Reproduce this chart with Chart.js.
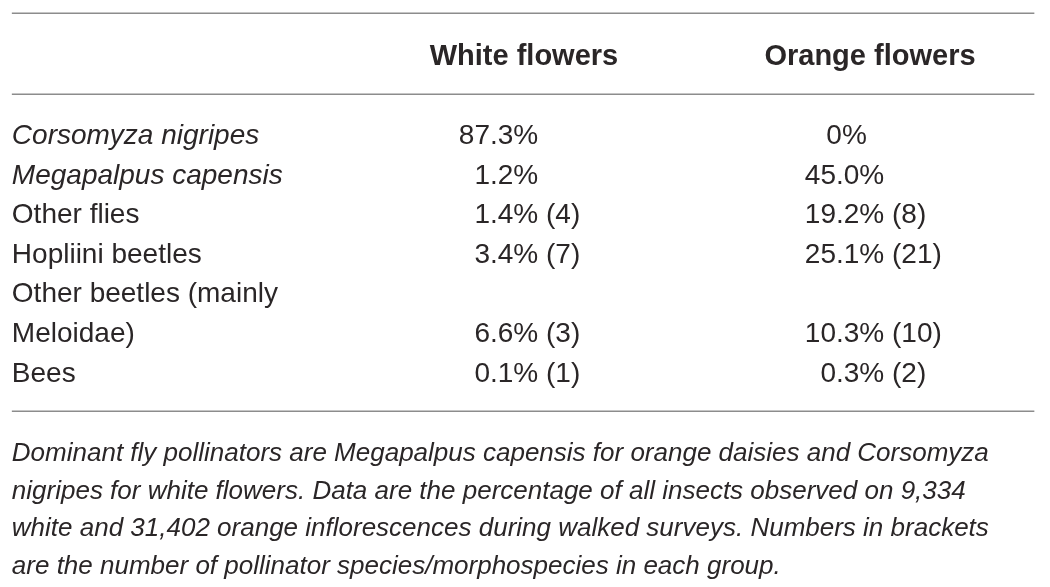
<!DOCTYPE html>
<html>
<head>
<meta charset="utf-8">
<title>Flower visitors</title>
<script src="https://cdn.jsdelivr.net/npm/chart.js@4.4.1/dist/chart.umd.min.js"></script>
<style>
  html, body { margin: 0; padding: 0; background: #fff; }
  canvas { display: block; }
</style>
</head>
<body>
<canvas id="pollinatorTable" width="1050" height="587"></canvas>
<script>
const rowLabels = [
  ["Corsomyza nigripes"],
  ["Megapalpus capensis"],
  ["Other flies"],
  ["Hopliini beetles"],
  ["Other beetles (mainly", "Meloidae)"],
  ["Bees"],
];
const speciesRow = [true, true, false, false, false, false];
const columnTitles = ["White flowers", "Orange flowers"];

const whitePct = [87.3, 1.2, 1.4, 3.4, 6.6, 0.1];
const whiteSpp = [null, null, 4, 7, 3, 1];
const orangePct = [0, 45.0, 19.2, 25.1, 10.3, 0.3];
const orangeSpp = [null, null, 8, 21, 10, 2];

const footnote = [
  "Dominant fly pollinators are Megapalpus capensis for orange daisies and Corsomyza",
  "nigripes for white flowers. Data are the percentage of all insects observed on 9,334",
  "white and 31,402 orange inflorescences during walked surveys. Numbers in brackets",
  "are the number of pollinator species/morphospecies in each group.",
];

const ink = "#2a2627";
const ruleColor = "#8c8c8c";
const fontFamily = "'Liberation Sans', Arial, Helvetica, sans-serif";
const textNudge = 2.5; // canvas "middle" sits a bit high against the cap height

// each row takes one or more text lines; values sit on the last line of the row
let nextLine = 1;
const firstLine = rowLabels.map((lines) => {
  const l = nextLine;
  nextLine += lines.length;
  return l;
});
const valueLine = rowLabels.map((lines, i) => firstLine[i] + lines.length - 1);

function cellText(pct, spp) {
  const num = pct === 0 ? "0" : pct.toFixed(1);
  return num + "%" + (spp ? " (" + spp + ")" : "");
}

const whiteCells = whitePct.map((p, i) => cellText(p, whiteSpp[i]));
const orangeCells = orangePct.map((p, i) => cellText(p, orangeSpp[i]));

const tablePlugin = {
  id: "tablePlugin",
  afterDatasetsDraw(chart) {
    const ctx = chart.ctx;
    const x = chart.scales.x;
    const y = chart.scales.y;
    const area = chart.chartArea;

    ctx.save();

    // horizontal rules
    ctx.strokeStyle = ruleColor;
    ctx.lineWidth = 1.5;
    const left = x.getPixelForValue(-0.48);
    const right = x.getPixelForValue(2.475);
    [-2.05, 0, 8].forEach((v) => {
      const py = Math.round(y.getPixelForValue(v)) + 0.25;
      ctx.beginPath();
      ctx.moveTo(left, py);
      ctx.lineTo(right, py);
      ctx.stroke();
    });

    ctx.fillStyle = ink;
    ctx.textBaseline = "middle";

    // column headers
    ctx.font = "bold 29px " + fontFamily;
    ctx.textAlign = "center";
    columnTitles.forEach((t, i) => {
      ctx.fillText(t, x.getPixelForValue(i + 1), y.getPixelForValue(-1) + textNudge);
    });

    // row labels
    const labelMeta = chart.getDatasetMeta(0);
    ctx.textAlign = "left";
    rowLabels.forEach((lines, i) => {
      const pt = labelMeta.data[i];
      ctx.font = (speciesRow[i] ? "italic " : "") + "28px " + fontFamily;
      lines.forEach((line, k) => {
        ctx.fillText(line, pt.x, y.getPixelForValue(firstLine[i] + k) + textNudge);
      });
    });

    // value cells, lined up on the decimal point
    ctx.font = "28px " + fontFamily;
    [whiteCells, orangeCells].forEach((cells, c) => {
      const meta = chart.getDatasetMeta(c + 1);
      cells.forEach((txt, i) => {
        const pt = meta.data[i];
        const anchor = pt.x - 34;
        const py = pt.y + textNudge;
        const dot = txt.indexOf(".");
        if (dot >= 0) {
          ctx.textAlign = "left";
          ctx.fillText(txt, anchor - ctx.measureText(txt.slice(0, dot)).width, py);
        } else {
          ctx.textAlign = "center";
          const shift = (ctx.measureText(".0%").width - ctx.measureText("00").width) / 2;
          ctx.fillText(txt, anchor + shift + 2, py);
        }
      });
    });

    // footnote under the bottom rule
    ctx.font = "italic 26px " + fontFamily;
    ctx.textAlign = "left";
    const lineH = 37.7;
    footnote.forEach((line, k) => {
      ctx.fillText(line, left, area.bottom + 24 + lineH * (k + 0.5));
    });

    ctx.restore();
  },
};

const ctx = document.getElementById("pollinatorTable").getContext("2d");

const chart = new Chart(ctx, {
  type: "scatter",
  data: {
    datasets: [
      {
        label: "Group",
        data: rowLabels.map((l, i) => ({ x: -0.48, y: firstLine[i] })),
      },
      {
        label: columnTitles[0],
        data: whitePct.map((p, i) => ({ x: 1, y: valueLine[i] })),
      },
      {
        label: columnTitles[1],
        data: orangePct.map((p, i) => ({ x: 2, y: valueLine[i] })),
      },
    ],
  },
  options: {
    responsive: false,
    animation: false,
    events: [],
    elements: {
      point: { radius: 0, hoverRadius: 0 },
    },
    layout: {
      padding: { left: 7, right: 7, top: 13, bottom: 176 },
    },
    scales: {
      x: { type: "linear", min: -0.494, max: 2.5, display: false },
      y: { type: "linear", min: -2.05, max: 8, reverse: true, display: false },
    },
    plugins: {
      legend: { display: false },
      tooltip: { enabled: false },
      title: { display: false },
    },
  },
  plugins: [tablePlugin],
});
</script>
</body>
</html>
